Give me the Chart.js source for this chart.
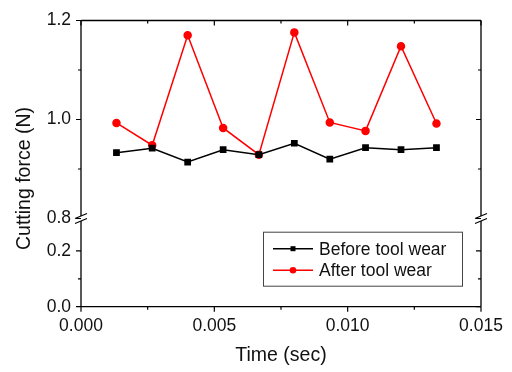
<!DOCTYPE html>
<html>
<head>
<meta charset="utf-8">
<script src="https://cdn.jsdelivr.net/npm/chart.js@4.4.1/dist/chart.umd.min.js"></script>
<style>
    html, body { margin: 0; padding: 0; background: #fff; }
    #wrap { width: 512px; height: 372px; }
</style>
</head>
<body>
<div id="wrap"><canvas id="forceChart"></canvas></div>
<script>
// data
const timeSec = [0.00133, 0.00267, 0.004, 0.00533, 0.00667, 0.008, 0.00933, 0.01067, 0.012, 0.01333];
const beforeWear = [0.933, 0.942, 0.914, 0.939, 0.929, 0.952, 0.920, 0.943, 0.939, 0.943];
const afterWear = [0.993, 0.948, 1.170, 0.983, 0.929, 1.176, 0.994, 0.977, 1.148, 0.992];

const seriesLabels = ["Before tool wear", "After tool wear"];

const xTicks = [0, 0.005, 0.010, 0.015];
const xMinor = [0.0025, 0.0075, 0.0125];
const yUpperTicks = [0.8, 1.0, 1.2];
const yUpperMinor = [0.9, 1.1];
const yLowerTicks = [0.0, 0.2];
const yLowerMinor = [0.1];

const FONT = "'Liberation Sans', Arial, sans-serif";

function fixedTicks(values) {
    return function (scale) {
        scale.ticks = values.map(v => ({ value: v }));
    };
}

// frame, ticks, axis break, y title and legend
const framePlugin = {
    id: "frame",
    afterDraw(chart) {
        const ctx = chart.ctx;
        const a = chart.chartArea;
        const xs = chart.scales.x;
        const yu = chart.scales.y;
        const yl = chart.scales.yLow;
        const br = yu.bottom;

        ctx.save();
        ctx.strokeStyle = "#000";
        ctx.lineWidth = 1.3;

        // frame with gaps at the break
        ctx.beginPath();
        ctx.moveTo(a.left, a.top); ctx.lineTo(a.right, a.top);
        ctx.moveTo(a.left, a.bottom); ctx.lineTo(a.right, a.bottom);
        ctx.moveTo(a.left, a.top); ctx.lineTo(a.left, br - 2.5);
        ctx.moveTo(a.left, br + 2.5); ctx.lineTo(a.left, a.bottom);
        ctx.moveTo(a.right, a.top); ctx.lineTo(a.right, br - 2.5);
        ctx.moveTo(a.right, br + 2.5); ctx.lineTo(a.right, a.bottom);
        ctx.stroke();

        // break marks
        ctx.lineWidth = 1.1;
        ctx.beginPath();
        [a.left, a.right].forEach(x => {
            [-2.5, 2.5].forEach(d => {
                ctx.moveTo(x - 6, br + d + 2.5);
                ctx.lineTo(x + 6, br + d - 2.5);
            });
        });
        ctx.stroke();

        // ticks
        ctx.lineWidth = 1.2;
        ctx.beginPath();
        const vTick = (scale, v, len) => {
            const y = scale.getPixelForValue(v);
            ctx.moveTo(a.left - len, y); ctx.lineTo(a.left, y);
            ctx.moveTo(a.right - len, y); ctx.lineTo(a.right, y);
        };
        yUpperTicks.forEach(v => vTick(yu, v, 5));
        yUpperMinor.forEach(v => vTick(yu, v, 3));
        yLowerTicks.forEach(v => vTick(yl, v, 5));
        yLowerMinor.forEach(v => vTick(yl, v, 3));
        const hTick = (v, len) => {
            const x = xs.getPixelForValue(v);
            ctx.moveTo(x, a.bottom); ctx.lineTo(x, a.bottom + len);
            ctx.moveTo(x, a.top); ctx.lineTo(x, a.top + len);
        };
        xTicks.forEach(v => hTick(v, 5));
        xMinor.forEach(v => hTick(v, 3));
        ctx.stroke();

        // y axis title
        ctx.fillStyle = "#111";
        ctx.font = "19.5px " + FONT;
        ctx.textAlign = "center";
        ctx.textBaseline = "middle";
        ctx.translate(25, a.top + (a.bottom - a.top) * 0.552);
        ctx.rotate(-Math.PI / 2);
        ctx.fillText("Cutting force (N)", 0, 0);
        ctx.restore();

        // legend box
        ctx.save();
        const bx = a.right - 218, by = a.bottom - 75, bw = 199, bh = 54;
        ctx.fillStyle = "#fff";
        ctx.fillRect(bx, by, bw, bh);
        ctx.strokeStyle = "#444";
        ctx.lineWidth = 1;
        ctx.strokeRect(bx + 0.5, by + 0.5, bw, bh);
        ctx.font = "17.5px " + FONT;
        ctx.textAlign = "left";
        ctx.textBaseline = "middle";
        chart.data.datasets.forEach((ds, i) => {
            const ly = by + 17 + i * 21.5;
            ctx.strokeStyle = ds.borderColor;
            ctx.lineWidth = 1.5;
            ctx.beginPath();
            ctx.moveTo(bx + 10, ly); ctx.lineTo(bx + 50, ly);
            ctx.stroke();
            ctx.fillStyle = ds.backgroundColor;
            if (ds.pointStyle === "rect") {
                ctx.fillRect(bx + 27.5, ly - 2.5, 5, 5);
            } else {
                ctx.beginPath();
                ctx.arc(bx + 30, ly, 3.3, 0, Math.PI * 2);
                ctx.fill();
            }
            ctx.fillStyle = "#111";
            ctx.fillText(ds.label, bx + 56, ly + 1);
        });
        ctx.restore();
    }
};

document.addEventListener("DOMContentLoaded", () => {

    const canvas = document.getElementById("forceChart");

    Chart.defaults.font.family = FONT;
    Chart.defaults.color = "#111";

    new Chart(canvas, {
        type: "line",
        data: {
            datasets: [
                {
                    label: seriesLabels[0],
                    data: timeSec.map((t, i) => ({ x: t, y: beforeWear[i] })),
                    borderColor: "#000",
                    backgroundColor: "#000",
                    borderWidth: 1.5,
                    pointStyle: "rect",
                    pointRadius: 3.7,
                    yAxisID: "y"
                },
                {
                    label: seriesLabels[1],
                    data: timeSec.map((t, i) => ({ x: t, y: afterWear[i] })),
                    borderColor: "#ff0000",
                    backgroundColor: "#ff0000",
                    borderWidth: 1.5,
                    pointStyle: "circle",
                    pointRadius: 3.5,
                    yAxisID: "y"
                }
            ]
        },
        options: {
            responsive: true,
            maintainAspectRatio: false,
            animation: false,
            layout: { padding: { top: 15, right: 31, left: 0, bottom: 0 } },
            plugins: {
                legend: { display: false },
                tooltip: { enabled: false }
            },
            scales: {
                x: {
                    type: "linear",
                    min: 0,
                    max: 0.015,
                    afterBuildTicks: fixedTicks(xTicks),
                    afterFit: s => { s.height = 65.3; },
                    grid: { display: false, drawTicks: false },
                    border: { display: false },
                    ticks: {
                        padding: 9,
                        font: { size: 17.5 },
                        callback: v => v.toFixed(3)
                    },
                    title: {
                        display: true,
                        text: "Time (sec)",
                        font: { size: 19.5 },
                        padding: { top: 0, bottom: 5 }
                    }
                },
                yLow: {
                    type: "linear",
                    position: "left",
                    stack: "force",
                    stackWeight: 90,
                    min: 0,
                    max: 0.316,
                    afterBuildTicks: fixedTicks(yLowerTicks),
                    afterFit: s => { s.width = 81; },
                    grid: { display: false, drawTicks: false },
                    border: { display: false },
                    ticks: { padding: 10, font: { size: 17.5 }, callback: v => v.toFixed(1) }
                },
                y: {
                    type: "linear",
                    position: "left",
                    stack: "force",
                    stackWeight: 202,
                    min: 0.8,
                    max: 1.2,
                    afterBuildTicks: fixedTicks(yUpperTicks),
                    afterFit: s => { s.width = 81; },
                    grid: { display: false, drawTicks: false },
                    border: { display: false },
                    ticks: { padding: 10, font: { size: 17.5 }, callback: v => v.toFixed(1) }
                }
            }
        },
        plugins: [framePlugin]
    });

});
</script>
</body>
</html>
